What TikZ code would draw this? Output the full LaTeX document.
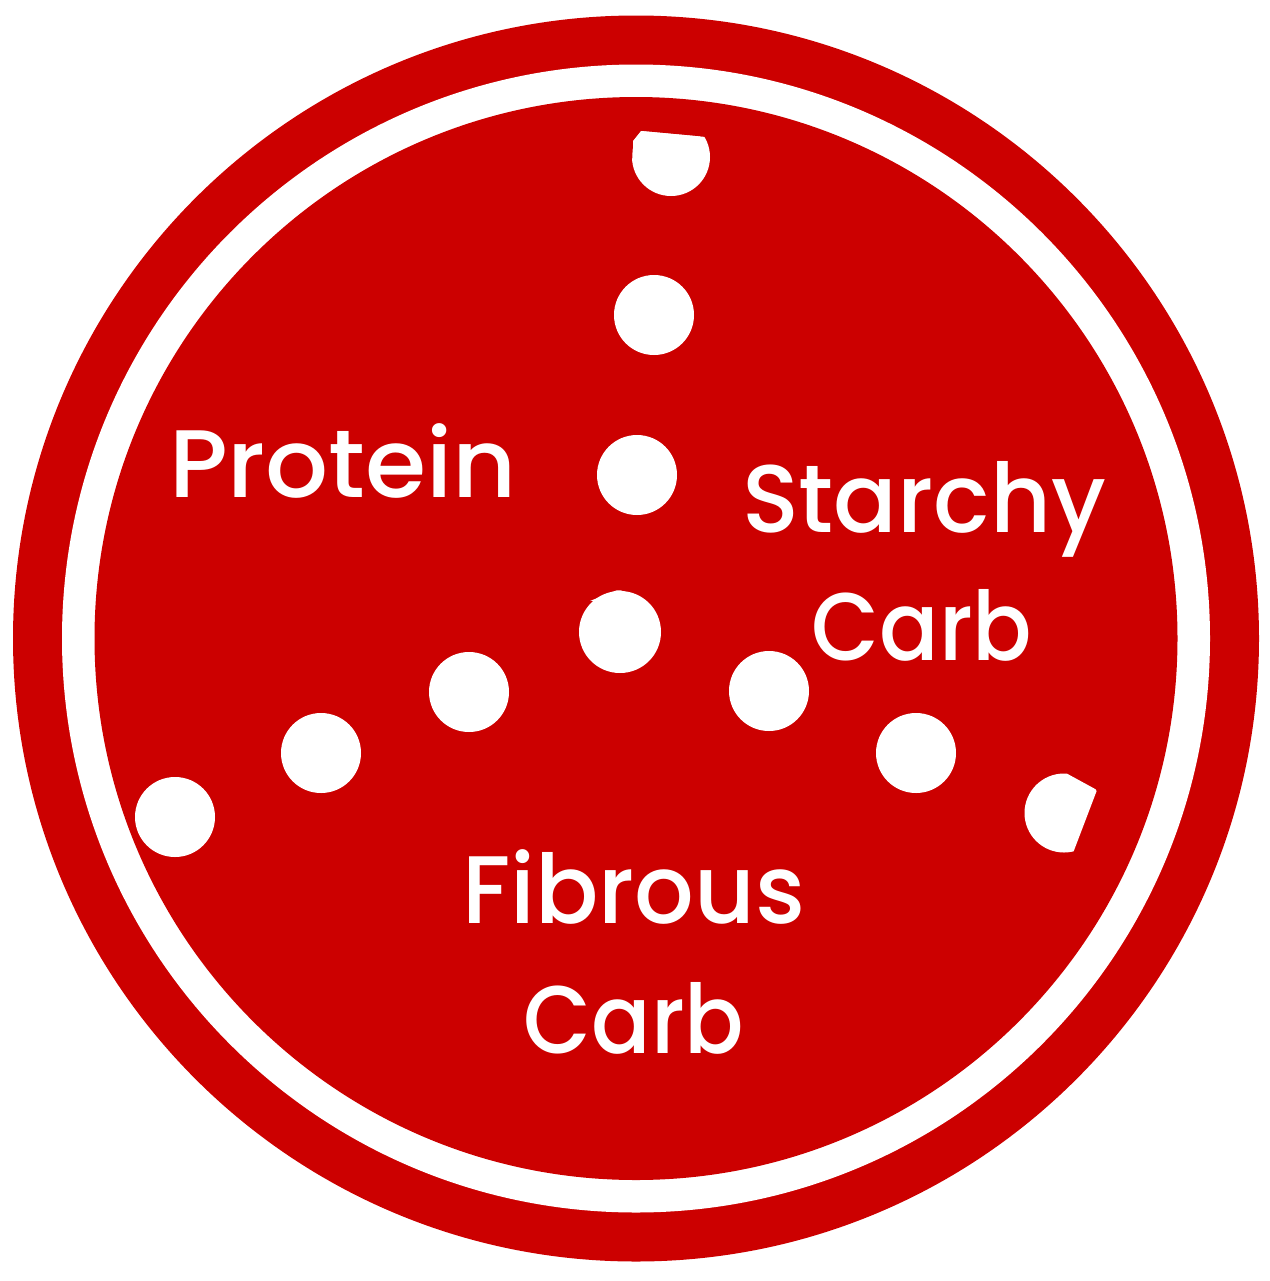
\documentclass[tikz,border=0pt]{standalone}
\usepackage{fontspec}
\setmainfont{Poppins Medium}
\definecolor{plate}{HTML}{CC0000}
\begin{document}
\begin{tikzpicture}[x=0.5pt,y=-0.5pt,
  dot/.style={fill=white},
  lbl/.style={text=white,font=\fontsize{48}{58}\selectfont,anchor=base,inner sep=0pt}]
\useasboundingbox (0,0) rectangle (1270,1281);
\fill[plate] (636,638.5) circle[radius=623];
\fill[white] (636,638.5) circle[radius=574];
\fill[plate] (636,638.5) circle[radius=541.5];
% clipped top dot
\begin{scope}
\clip (641,131) -- (706,137) -- (720,139) -- (720,210) -- (630,210) -- (633,141) -- cycle;
\fill[white] (671,157) circle[radius=39];
\fill[white] (633,125) rectangle (700,157);
\end{scope}
\fill[dot] (654,315) circle[radius=40];
\fill[dot] (637,475) circle[radius=40];
\fill[dot] (620,632) circle[radius=41];
\fill[white] (590,601) -- (612,592) .. controls (618,589) and (624,590) .. (628,594) -- (620,600) -- cycle;
\fill[dot] (469,692) circle[radius=40];
\fill[dot] (321,753) circle[radius=40];
\fill[dot] (175,817) circle[radius=40];
\fill[dot] (769,691) circle[radius=40];
\fill[dot] (916,753) circle[radius=40];
% clipped right dot
\begin{scope}
\clip (1000,772) -- (1064,772) -- (1097,790) -- (1073,853) -- (1000,853) -- cycle;
\fill[white] (1064,813) circle[radius=39.5];
\end{scope}
\node[lbl] (protein) at (343,497) {\scalebox{1.03}[1]{Protein}};
\node[lbl] (starchy) at (924,532) {\scalebox{0.98}[1]{Starchy}};
\node[lbl] (carb1) at (922,660) {\scalebox{0.915}[1]{Carb}};
\node[lbl] (fibrous) at (634,923) {\scalebox{0.975}[1]{Fibrous}};
\node[lbl] (carb2) at (634,1053) {\scalebox{0.915}[1]{Carb}};
\end{tikzpicture}
\end{document}
